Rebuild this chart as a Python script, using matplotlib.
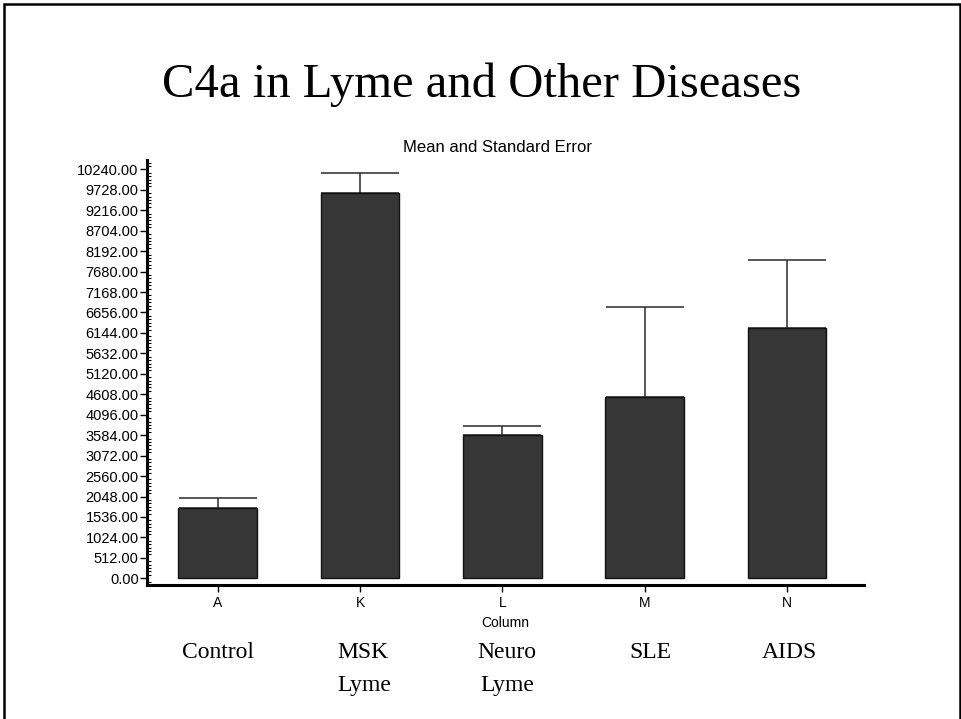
import matplotlib
matplotlib.use("Agg")
import matplotlib.pyplot as plt
import matplotlib.transforms as mtransforms
from matplotlib.patches import Rectangle
from matplotlib.ticker import MultipleLocator, AutoMinorLocator, FormatStrFormatter
import numpy as np

# ---- data ----
columns = ["A", "K", "L", "M", "N"]
groups = ["Control", "MSK\nLyme", "Neuro\nLyme", "SLE", "AIDS"]
means = [1755, 9655, 3580, 4530, 6260]
sem = [255, 500, 235, 2255, 1710]

title = "C4a in Lyme and Other Diseases"
subtitle = "Mean and Standard Error"
xlabel = "Column"

W, H = 961, 719
fig = plt.figure(figsize=(W / 100, H / 100), dpi=100)
fig.patch.set_facecolor("white")

# axes placement (pixels -> fractions)
left_px, right_px, top_px, bottom_px = 147, 864, 160, 585
ax = fig.add_axes([left_px / W, 1 - bottom_px / H,
                   (right_px - left_px) / W, (bottom_px - top_px) / H])

x = np.arange(len(columns))
bar_w = 0.552
ax.bar(x, means, width=bar_w, color="#363636", edgecolor="#111111",
       linewidth=1.0, zorder=2)
cap_pts = (bar_w * 142.3 / 2) * 72 / 100
ax.errorbar(x, means, yerr=[np.zeros(len(means)), sem], fmt="none",
            ecolor="#2a2a2a", elinewidth=1.1, capsize=cap_pts, capthick=1.1,
            zorder=1)

ax.set_xlim(-0.497, 4.542)
ax.set_ylim(-168, 10474)

for s in ["top", "right"]:
    ax.spines[s].set_visible(False)
for s in ["left", "bottom"]:
    ax.spines[s].set_linewidth(2.2)
    ax.spines[s].set_color("black")

ax.yaxis.set_major_locator(MultipleLocator(512))
ax.yaxis.set_minor_locator(AutoMinorLocator(6))
ax.yaxis.set_major_formatter(FormatStrFormatter("%.2f"))
ax.set_yticks(np.arange(0, 10241, 512))
ax.tick_params(axis="y", which="major", direction="out", length=5, width=1,
               labelsize=10.5, pad=1)
ax.tick_params(axis="y", which="minor", direction="in", length=3, width=0.8)
for lab in ax.get_yticklabels():
    lab.set_fontfamily("Liberation Sans")

ax.set_xticks(x)
ax.set_xticklabels(columns, fontfamily="Liberation Sans", fontsize=10)
ax.tick_params(axis="x", which="major", direction="out", length=5, width=1,
               pad=3)

# texts
fig.text(0.501, 1 - 85 / H, title, ha="center", va="center",
         fontsize=35, fontfamily="Liberation Serif")
fig.text(498 / W, 1 - 148 / H, subtitle, ha="center", va="center",
         fontsize=12, fontfamily="Liberation Sans")
fig.text(505 / W, 1 - 623 / H, xlabel, ha="center", va="center",
         fontsize=10, fontfamily="Liberation Sans")

trans = mtransforms.blended_transform_factory(ax.transData, fig.transFigure)
offsets = [0, 0.03, 0.035, 0.04, 0.02]
aligns = ["center", "left", "center", "center", "center"]
for xi, g, off, al in zip(x, groups, offsets, aligns):
    ax.text(xi + off, 1 - 642 / H, g, transform=trans, ha="center", va="top",
            fontsize=17, fontfamily="Liberation Serif", linespacing=1.75,
            multialignment=al)

# outer frame
frame = Rectangle((4 / W, -0.1), (W - 1.5) / W - 4 / W, 1.1 - 4 / H,
                  transform=fig.transFigure, fill=False, edgecolor="black",
                  linewidth=1.8, clip_on=False)
fig.patches.append(frame)

fig.savefig("out.png", dpi=100)
